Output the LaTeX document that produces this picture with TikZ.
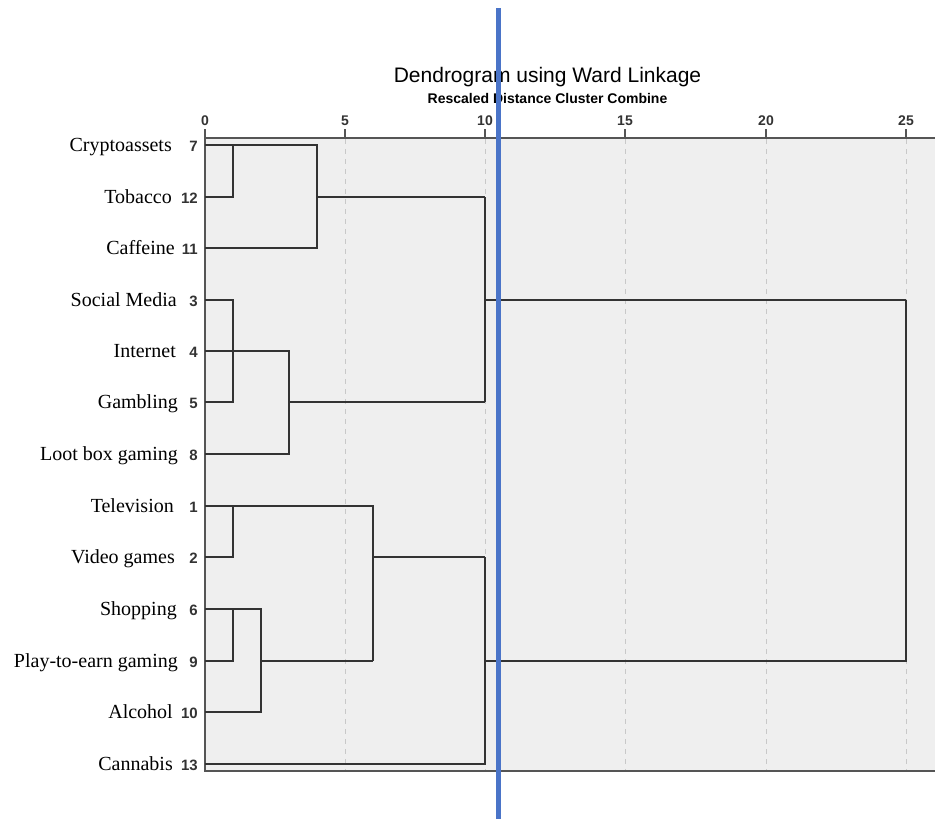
\documentclass[tikz,border=0pt]{standalone}
\usepackage{fontspec}
\setmainfont{Liberation Serif}
\setsansfont{Liberation Sans}
\definecolor{linec}{HTML}{333333}
\definecolor{bgc}{HTML}{EFEFEF}
\definecolor{gridc}{HTML}{C8C8C8}
\definecolor{axisc}{HTML}{555555}
\definecolor{numc}{HTML}{333333}
\definecolor{cutc}{HTML}{4A74C8}
\newcommand\leafrow[5]{%
  \coordinate (l#1) at (205,#4);
  \node[lbl] (t#1) at (#5,#4) {#2};
  \node[num] (k#1) at (198,#4) {#3};
}
\begin{document}
\begin{tikzpicture}[x=1pt,y=-1pt,
  lbl/.style={anchor=east,yshift=-6pt,anchor=base east,font=\fontsize{20}{22}\selectfont,inner sep=0pt},
  num/.style={anchor=base east,yshift=-6pt,font=\sffamily\bfseries\fontsize{15}{17}\selectfont,text=numc,inner sep=0pt},
  link/.style={draw=linec,line width=1.6pt},
  gridline/.style={draw=gridc,line width=1pt,dash pattern=on 5pt off 5pt},
  axisline/.style={draw=axisc,line width=2pt},
  ticklbl/.style={anchor=base,font=\sffamily\bfseries\fontsize{14}{16}\selectfont,text=numc,inner sep=0pt}]
\useasboundingbox (0,0) rectangle (935,819);
% plot background
\fill[bgc] (205,138) rectangle (935,771);
% grid and ticks
\foreach \d/\x in {0/205,5/345,10/485,15/625,20/766,25/906}{
  \ifnum\d>0 \draw[gridline] (\x,139) -- (\x,770); \fi
  \draw[axisline] (\x,129) -- (\x,138);
  \node[ticklbl] (tick\d) at (\x,125) {\d};
}
\draw[axisline] (205,138) -- (935,138);
\draw[axisline] (205,138) -- (205,771) -- (935,771);
% titles
\node[anchor=base,font=\sffamily\fontsize{21}{24}\selectfont,inner sep=0pt] (title) at (547.5,82) {Dendrogram using Ward Linkage};
\node[anchor=base,font=\sffamily\bfseries\fontsize{14}{16}\selectfont,inner sep=0pt] (subtitle) at (547.5,103) {Rescaled Distance Cluster Combine};
% leaves
\leafrow{7}{Cryptoassets}{7}{145}{172}
\leafrow{12}{Tobacco}{12}{197}{172}
\leafrow{11}{Caffeine}{11}{248}{175}
\leafrow{3}{Social Media}{3}{300}{177}
\leafrow{4}{Internet}{4}{351}{176}
\leafrow{5}{Gambling}{5}{402}{178}
\leafrow{8}{Loot box gaming}{8}{454}{178}
\leafrow{1}{Television}{1}{506}{174}
\leafrow{2}{Video games}{2}{557}{175}
\leafrow{6}{Shopping}{6}{609}{177}
\leafrow{9}{Play-to-earn gaming}{9}{661}{178}
\leafrow{10}{Alcohol}{10}{712}{173}
\leafrow{13}{Cannabis}{13}{764}{173}
% merge points
\coordinate (mA1) at (233,145);
\coordinate (mA2) at (317,145);
\coordinate (mB1) at (233,300);
\coordinate (mB2) at (289,351);
\coordinate (mTop) at (485,197);
\coordinate (mC1) at (233,506);
\coordinate (mC2) at (373,506);
\coordinate (mD1) at (233,609);
\coordinate (mD2) at (261,609);
\coordinate (mBot) at (485,557);
\coordinate (mRoot) at (906,300);
% cluster 7,12,11
\draw[link] (l7) -- (mA2) -- (mA2 |- l11) -- (l11);
\draw[link] (mA1) -- (mA1 |- l12) -- (l12);
\draw[link] (mA2 |- l12) -- (mTop);
% cluster 3,4,5,8
\draw[link] (l3) -- (mB1) -- (mB1 |- l5) -- (l5);
\draw[link] (l4) -- (mB2) -- (mB2 |- l8) -- (l8);
\draw[link] (mB2 |- l5) -- (mTop |- l5);
\draw[link] (mTop) -- (mTop |- l5);
\draw[link] (mTop |- l3) -- (mRoot);
% cluster 1,2,6,9,10
\draw[link] (l1) -- (mC2) -- (mC2 |- l9);
\draw[link] (mC1) -- (mC1 |- l2) -- (l2);
\draw[link] (l6) -- (mD2) -- (mD2 |- l10) -- (l10);
\draw[link] (mD1) -- (mD1 |- l9) -- (l9);
\draw[link] (mD2 |- l9) -- (mC2 |- l9);
\draw[link] (mC2 |- l2) -- (mBot);
\draw[link] (l13) -- (mBot |- l13) -- (mBot);
\draw[link] (mBot |- l9) -- (mRoot |- l9) -- (mRoot);
% cut line
\draw[cutc,line width=5pt] (498,8) -- (498,819);
\end{tikzpicture}
\end{document}
